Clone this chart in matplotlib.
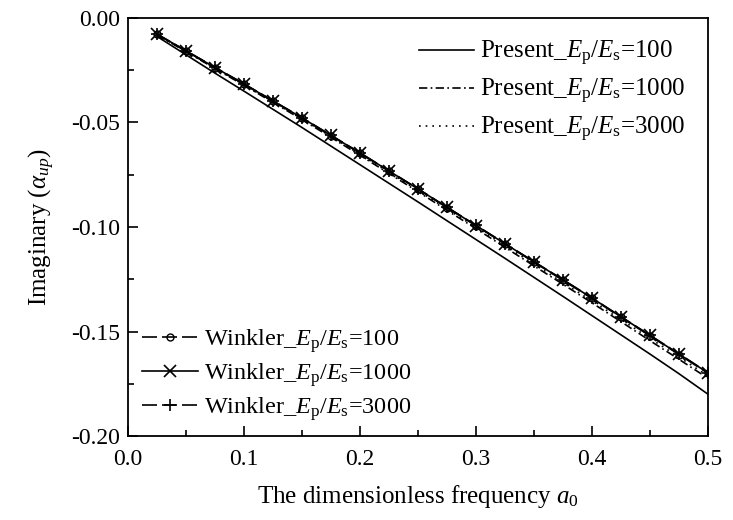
import matplotlib
matplotlib.use('Agg')
import matplotlib.pyplot as plt
from matplotlib.ticker import MultipleLocator, FormatStrFormatter

plt.rcParams['font.family'] = 'Liberation Serif'
plt.rcParams['mathtext.fontset'] = 'custom'
plt.rcParams['mathtext.rm'] = 'Liberation Serif'
plt.rcParams['mathtext.it'] = 'Liberation Serif:italic'
plt.rcParams['axes.unicode_minus'] = False

# dimensionless frequency a0
a0 = [0.025, 0.05, 0.075, 0.1, 0.125, 0.15, 0.175, 0.2, 0.225, 0.25,
      0.275, 0.3, 0.325, 0.35, 0.375, 0.4, 0.425, 0.45, 0.475, 0.5]

present_100 = [-0.0088, -0.0176, -0.0264, -0.0350, -0.0437, -0.0524, -0.0613, -0.0702, -0.0791, -0.0880,
               -0.0970, -0.1060, -0.1150, -0.1241, -0.1332, -0.1424, -0.1516, -0.1608, -0.1702, -0.1800]
present_1000 = [-0.0080, -0.0161, -0.0242, -0.0322, -0.0404, -0.0486, -0.0571, -0.0657, -0.0744, -0.0831,
                -0.0920, -0.1008, -0.1097, -0.1186, -0.1274, -0.1363, -0.1453, -0.1544, -0.1633, -0.1724]
present_3000 = [-0.0079, -0.0160, -0.0240, -0.0320, -0.0401, -0.0483, -0.0567, -0.0652, -0.0739, -0.0825,
                -0.0914, -0.1001, -0.1089, -0.1178, -0.1266, -0.1354, -0.1443, -0.1533, -0.1622, -0.1713]

winkler_100 = [-0.0078, -0.0158, -0.0238, -0.0317, -0.0398, -0.0479, -0.0563, -0.0647, -0.0733, -0.0819,
               -0.0907, -0.0994, -0.1081, -0.1168, -0.1255, -0.1342, -0.1432, -0.1521, -0.1610, -0.1700]
winkler_1000 = [-0.0077, -0.0157, -0.0237, -0.0316, -0.0397, -0.0478, -0.0562, -0.0646, -0.0732, -0.0818,
                -0.0906, -0.0993, -0.1080, -0.1167, -0.1253, -0.1340, -0.1430, -0.1519, -0.1608, -0.1698]
winkler_3000 = [-0.0077, -0.0157, -0.0236, -0.0315, -0.0396, -0.0477, -0.0561, -0.0645, -0.0731, -0.0817,
                -0.0905, -0.0992, -0.1079, -0.1166, -0.1252, -0.1339, -0.1429, -0.1518, -0.1607, -0.1697]

ratio = r'$E_{\mathrm{p}}/E_{\mathrm{s}}$'

fig = plt.figure(figsize=(7.33, 5.2), dpi=100)
ax = fig.add_axes([0.1746, 0.1615, 0.7913, 0.8039])

l1, = ax.plot(a0, present_100, color='k', lw=1.2, ls='-', label='Present_' + ratio + '=100')
l2, = ax.plot(a0, present_1000, color='k', lw=1.2, ls=(0, (5, 2, 1, 2)), label='Present_' + ratio + '=1000')
l3, = ax.plot(a0, present_3000, color='k', lw=1.2, ls=(0, (1, 3)), label='Present_' + ratio + '=3000')

w1, = ax.plot(a0, winkler_100, color='k', lw=1.2, ls=(0, (9, 3)), marker='o', ms=5, mfc='none',
              mew=1.0, label='Winkler_' + ratio + '=100')
w2, = ax.plot(a0, winkler_1000, color='k', lw=1.2, ls='-', marker='x', ms=8, mew=1.2,
              label='Winkler_' + ratio + '=1000')
w3, = ax.plot(a0, winkler_3000, color='k', lw=1.2, ls=(0, (9, 3)), marker='+', ms=9, mew=1.2,
              label='Winkler_' + ratio + '=3000')

ax.set_xlim(0.0, 0.5)
ax.set_ylim(-0.20, 0.0)
ax.xaxis.set_major_locator(MultipleLocator(0.1))
ax.xaxis.set_minor_locator(MultipleLocator(0.05))
ax.yaxis.set_major_locator(MultipleLocator(0.05))
ax.yaxis.set_minor_locator(MultipleLocator(0.025))
ax.xaxis.set_major_formatter(FormatStrFormatter('%.1f'))
ax.yaxis.set_major_formatter(FormatStrFormatter('%.2f'))
ax.tick_params(which='both', direction='in', labelsize=17, width=1.2)
ax.tick_params(which='major', length=7)
ax.tick_params(axis='x', which='major', pad=9)
ax.tick_params(axis='y', which='major', pad=6)
ax.tick_params(which='minor', length=4)
for s in ax.spines.values():
    s.set_linewidth(1.3)

ax.set_xlabel('The dimensionless frequency $a_0$', fontsize=18, labelpad=10)
ax.set_ylabel(r'Imaginary ($\alpha_{up}$)', fontsize=18, labelpad=10)

leg1 = ax.legend(handles=[l1, l2, l3], loc='upper right', frameon=False, fontsize=18,
                 handlelength=2.2, handletextpad=0.25, labelspacing=0.35,
                 bbox_to_anchor=(1.0, 1.003))
ax.add_artist(leg1)
ax.legend(handles=[w1, w2, w3], loc='lower left', frameon=False, fontsize=17.5,
          handlelength=2.3, handletextpad=0.25, labelspacing=0.25,
          bbox_to_anchor=(-0.014, -0.02))

fig.savefig('out.png', dpi=100)
